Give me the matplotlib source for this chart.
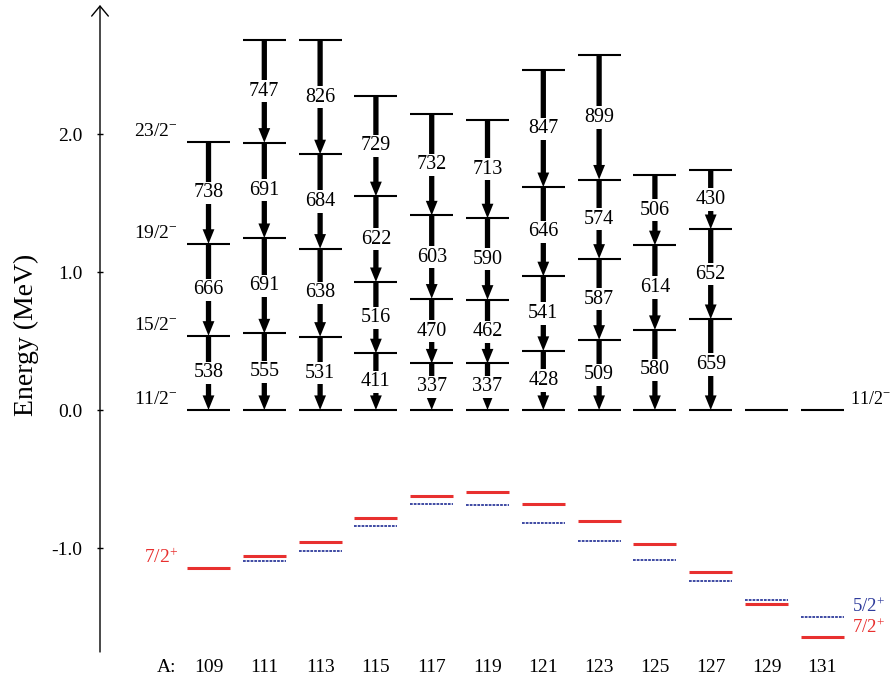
"""Yrast 11/2- band and low-lying 7/2+ / 5/2+ levels along an isotope chain."""

import numpy as np
import matplotlib

matplotlib.use("Agg")
import matplotlib.pyplot as plt

plt.rcParams["font.family"] = ["Liberation Serif", "DejaVu Serif"]
plt.rcParams["mathtext.fontset"] = "custom"
plt.rcParams["mathtext.rm"] = "Liberation Serif"
plt.rcParams["mathtext.it"] = "Liberation Serif:italic"
plt.rcParams["axes.unicode_minus"] = False

# mass numbers
mass = [109, 111, 113, 115, 117, 119, 121, 123, 125, 127, 129, 131]

# gamma energies (keV) of the band built on 11/2-, from the bottom up
gammas = [
    [538, 666, 738],
    [555, 691, 691, 747],
    [531, 638, 684, 826],
    [411, 516, 622, 729],
    [337, 470, 603, 732],
    [337, 462, 590, 713],
    [428, 541, 646, 847],
    [509, 587, 574, 899],
    [580, 614, 506],
    [659, 652, 430],
    [],
    [],
]

# 7/2+ and 5/2+ energies relative to 11/2- (MeV)
e_72 = [-1.145, -1.060, -0.957, -0.780, -0.621, -0.592,
        -0.681, -0.807, -0.971, -1.176, -1.404, -1.645]
e_52 = [np.nan, -1.097, -1.019, -0.841, -0.679, -0.688,
        -0.821, -0.947, -1.087, -1.237, -1.375, -1.498]

spin_labels = ["11/2$^{-}$", "15/2$^{-}$", "19/2$^{-}$", "23/2$^{-}$"]

RED = "#e8302f"
BLUE = "#2f3c9c"
HALF = 0.77  # half width of a level line, in A units

fig = plt.figure(figsize=(8.96, 6.79), dpi=100)
ax = fig.add_axes([100 / 896, 27 / 679, 796 / 896, 647 / 679])
ax.set_xlim(105.111, 133.641)
ax.set_ylim(-1.7536, 2.9348)
for side in ["left", "right", "top", "bottom"]:
    ax.spines[side].set_visible(False)

# y axis drawn as an arrow
ax.annotate("", xy=(0, 1.0), xytext=(0, 0), xycoords="axes fraction",
            arrowprops=dict(arrowstyle="->,head_length=0.6,head_width=0.5",
                            lw=1.0, color="black", shrinkA=0, shrinkB=0,
                            mutation_scale=12))
ax.set_yticks([-1.0, 0.0, 1.0, 2.0])
ax.set_yticklabels(["-1.0", "0.0", "1.0", "2.0"])
ax.tick_params(axis="y", direction="inout", length=5, width=1, pad=10,
               labelsize=14)

ax.set_xticks([107.5] + mass)
ax.set_xticklabels(["A:"] + [str(m) for m in mass])
ax.tick_params(axis="x", length=0, pad=5, labelsize=14)

fig.text(26 / 896, 1 - 335 / 679, "Energy (MeV)", rotation=90,
         ha="center", va="center", fontsize=20)

for a, gs, r, b in zip(mass, gammas, e_72, e_52):
    levels = np.concatenate([[0.0], np.cumsum(gs) / 1000.0])
    ax.hlines(levels, a - HALF, a + HALF, color="black", lw=1.5, zorder=3)
    for lo, hi, g in zip(levels[:-1], levels[1:], gs):
        ax.annotate("", xy=(a, lo), xytext=(a, hi),
                    arrowprops=dict(
                        arrowstyle="simple,head_length=1.05,head_width=0.85,tail_width=0.38",
                        fc="black", ec="none", lw=0, shrinkA=0, shrinkB=0,
                        mutation_scale=10), zorder=2)
        ax.text(a, (lo + hi) / 2, str(g), ha="center", va="center",
                fontsize=14.5, zorder=4,
                bbox=dict(fc="white", ec="none", pad=1.2))
    ax.hlines(r, a - HALF, a + HALF, color=RED, lw=2.2, zorder=3)
    if not np.isnan(b):
        ax.hlines(b, a - HALF, a + HALF, color=BLUE, lw=1.3,
                  linestyles=(0, (1.5, 0.6)), zorder=3)

# spin labels on the left (109) and right
first = np.concatenate([[0.0], np.cumsum(gammas[0]) / 1000.0])
for lab, e in zip(spin_labels, first):
    ax.text(107.9, e + 0.075, lab, ha="right", va="center", fontsize=14)
ax.text(107.9, e_72[0] + 0.075, "7/2$^{+}$", ha="right", va="center",
        fontsize=14, color=RED)
ax.text(132.0, 0.075, "11/2$^{-}$", ha="left", va="center", fontsize=13,
        clip_on=False)
ax.text(132.05, e_52[-1] + 0.075, "5/2$^{+}$", ha="left", va="center",
        fontsize=13.5, color=BLUE, clip_on=False)
ax.text(132.05, e_72[-1] + 0.067, "7/2$^{+}$", ha="left", va="center",
        fontsize=13.5, color=RED, clip_on=False)

fig.savefig("out.png", dpi=100)
